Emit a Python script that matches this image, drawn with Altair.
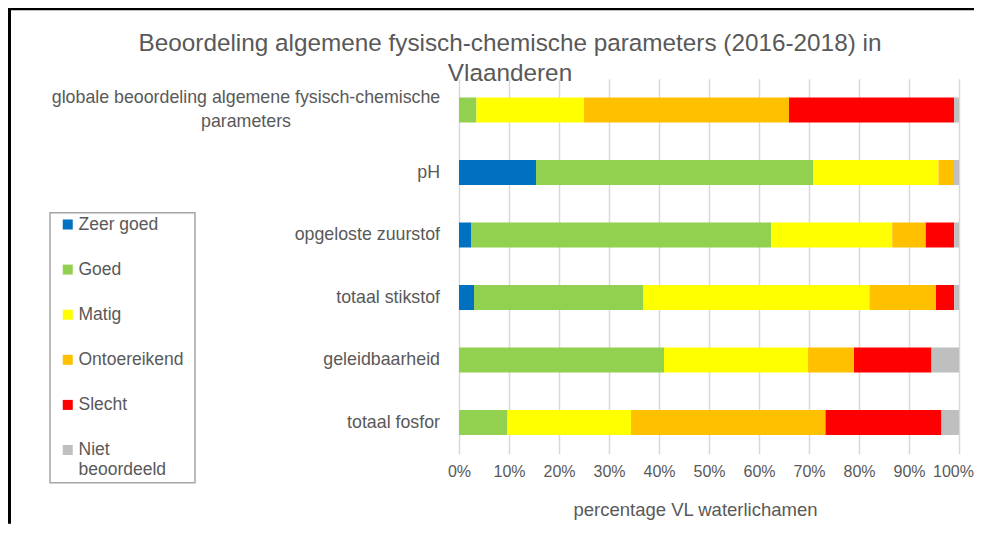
import altair as alt
import pandas as pd

parameters = [
    "globale beoordeling algemene fysisch-chemische\nparameters",
    "pH",
    "opgeloste zuurstof",
    "totaal stikstof",
    "geleidbaarheid",
    "totaal fosfor",
]
classes = ["Zeer goed", "Goed", "Matig", "Ontoereikend", "Slecht", "Niet beoordeeld"]
colors = ["#0070C0", "#92D050", "#FFFF00", "#FFC000", "#FF0000", "#BFBFBF"]

zeer_goed = [0.0, 15.4, 2.4, 3.0, 0.0, 0.0]
goed = [3.5, 55.4, 60.05, 33.9, 41.0, 9.7]
matig = [21.5, 25.1, 24.2, 45.2, 28.8, 24.7]
ontoereikend = [41.0, 3.1, 6.7, 13.3, 9.2, 38.9]
slecht = [33.0, 0.0, 5.7, 3.65, 15.5, 23.2]
niet_beoordeeld = [1.0, 1.0, 0.95, 0.95, 5.5, 3.5]

x_ticks = list(range(0, 101, 10))

series = [zeer_goed, goed, matig, ontoereikend, slecht, niet_beoordeeld]
rows = []
for ci, (cls, vals) in enumerate(zip(classes, series)):
    for p, v in zip(parameters, vals):
        rows.append({"parameter": p, "klasse": cls, "value": v, "idx": ci})
df = pd.DataFrame(rows)
labels_df = pd.DataFrame({"parameter": parameters})

FONT = "Liberation Sans"
GREY = "#595959"

y_enc = alt.Y("parameter:N", sort=parameters,
              scale=alt.Scale(paddingInner=0.6, paddingOuter=0.3), axis=None)

bars = alt.Chart(df).mark_bar().encode(
    y=y_enc,
    x=alt.X("value:Q", stack="zero",
            scale=alt.Scale(domain=[0, 100], nice=False),
            axis=alt.Axis(values=x_ticks, labelExpr="datum.value + '%'",
                          labelOverlap=False, labelFlush=False,
                          labelOffset={"condition": {"test": "datum.value == 100", "value": -6}, "value": 0},
                          title="percentage VL waterlichamen",
                          grid=True, gridColor="#D9D9D9", gridWidth=1.5,
                          domain=False, ticks=False, labelPadding=10,
                          labelFontSize=16, labelColor=GREY, labelFont=FONT,
                          titleFontSize=18.5, titleColor=GREY, titleFont=FONT,
                          titleFontWeight="normal", titlePadding=21,
                          titleX=236, titleAnchor="start", titleAlign="center")),
    color=alt.Color("klasse:N", scale=alt.Scale(domain=classes, range=colors),
                    legend=alt.Legend(orient="none", legendX=-400, legendY=137,
                                      title=None, symbolType="square",
                                      symbolSize=100, symbolStrokeWidth=0,
                                      labelFontSize=17.5, labelColor=GREY,
                                      labelFont=FONT, labelOffset=2,
                                      rowPadding=26.1, padding=0,
                                      labelExpr="datum.label == 'Niet beoordeeld' ? ['Niet', 'beoordeeld'] : datum.label")),
    order=alt.Order("idx:Q"),
).transform_filter("datum.value > 0")

labels_main = alt.Chart(labels_df).mark_text(
    align="right", baseline="middle", fontSize=17.8, color=GREY, font=FONT
).encode(
    y=alt.Y("parameter:N", sort=parameters),
    text="parameter:N",
    x=alt.value(-19),
).transform_filter(alt.datum.parameter != parameters[0])

labels_first = alt.Chart(labels_df).mark_text(
    align="center", baseline="middle", fontSize=17.8, color=GREY, font=FONT,
    lineBreak="\n", lineHeight=24, dy=-12
).encode(
    y=alt.Y("parameter:N", sort=parameters),
    text="parameter:N",
    x=alt.value(-213),
).transform_filter(alt.datum.parameter == parameters[0])

one = alt.Data(values=[{"a": 1}])
legend_box = alt.Chart(one).mark_rect(filled=False, stroke="#A6A6A6", strokeWidth=1.5).encode(
    x=alt.value(-409), x2=alt.value(-264), y=alt.value(134), y2=alt.value(404)
)
frame_left = alt.Chart(one).mark_rule(color="black", strokeWidth=3).encode(
    x=alt.value(-449.5), y=alt.value(-71), y2=alt.value(445)
)
frame_top = alt.Chart(one).mark_rule(color="black", strokeWidth=3).encode(
    x=alt.value(-451), x2=alt.value(515), y=alt.value(-70)
)

chart = alt.layer(frame_left, frame_top, legend_box, bars, labels_main, labels_first).properties(
    width=500, height=375,
    title=alt.Title(
        text=["Beoordeling algemene fysisch-chemische parameters (2016-2018) in", "Vlaanderen"],
        anchor="middle", frame="group", dx=-199, fontSize=24.3, color=GREY,
        fontWeight="normal", font=FONT, lineHeight=30, offset=-80),
    autosize=alt.AutoSizeParams(type="none"),
    padding={"left": 451, "top": 70.75, "right": 15, "bottom": 70},
    background="white",
).configure_view(stroke=None)

chart.save("out.html", embed_options={"renderer": "svg", "actions": False})
